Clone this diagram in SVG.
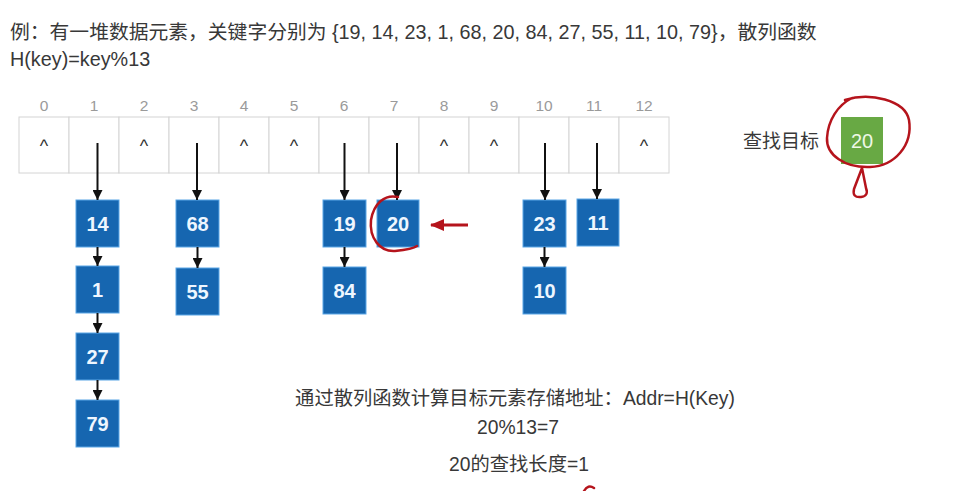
<svg xmlns="http://www.w3.org/2000/svg" width="956" height="491" viewBox="0 0 956 491">
<defs>
<style>
.t{font-family:"Liberation Sans","Noto Sans CJK SC",sans-serif;fill:#383838}
.idx{font-family:"Liberation Sans",sans-serif;font-size:15.5px;fill:#9a9a9a;text-anchor:middle}
.car{font-family:"Liberation Sans",sans-serif;font-size:18px;fill:#333;text-anchor:middle}
.cell{fill:#fff;stroke:#d4d4d4;stroke-width:1}
.box{fill:#1666b0;stroke:#5aa6e6;stroke-width:1}
.num{font-family:"Liberation Sans",sans-serif;font-size:20px;font-weight:bold;fill:#eef6ff;text-anchor:middle}
.arr{stroke:#111;stroke-width:2;fill:none;marker-end:url(#ah)}
.red{stroke:#b5141c;stroke-width:2.5;fill:none;stroke-linecap:round;stroke-linejoin:round}
</style>
<marker id="ah" markerUnits="userSpaceOnUse" markerWidth="10" markerHeight="10" refX="10" refY="5" orient="auto">
<path d="M0,0 L10,5 L0,10 z" fill="#111"/>
</marker>
<marker id="rh" markerUnits="userSpaceOnUse" markerWidth="14" markerHeight="12" refX="13" refY="6" orient="auto">
<path d="M0,0 L14,6 L0,12 z" fill="#b5141c"/>
</marker>
</defs>

<g id="title">
<text class="t" x="10" y="39" font-size="19.8">例：有一堆数据元素，关键字分别为 {19, 14, 23, 1, 68, 20, 84, 27, 55, 11, 10, 79}，散列函数</text>
<text class="t" x="10" y="66" font-size="19.8">H(key)=key%13</text>
</g>

<g id="table">
<rect class="cell" x="19" y="117" width="50" height="56"/>
<rect class="cell" x="69" y="117" width="50" height="56"/>
<rect class="cell" x="119" y="117" width="50" height="56"/>
<rect class="cell" x="169" y="117" width="50" height="56"/>
<rect class="cell" x="219" y="117" width="50" height="56"/>
<rect class="cell" x="269" y="117" width="50" height="56"/>
<rect class="cell" x="319" y="117" width="50" height="56"/>
<rect class="cell" x="369" y="117" width="50" height="56"/>
<rect class="cell" x="419" y="117" width="50" height="56"/>
<rect class="cell" x="469" y="117" width="50" height="56"/>
<rect class="cell" x="519" y="117" width="50" height="56"/>
<rect class="cell" x="569" y="117" width="50" height="56"/>
<rect class="cell" x="619" y="117" width="50" height="56"/>
<text class="idx" x="44" y="111">0</text>
<text class="idx" x="94" y="111">1</text>
<text class="idx" x="144" y="111">2</text>
<text class="idx" x="194" y="111">3</text>
<text class="idx" x="244" y="111">4</text>
<text class="idx" x="294" y="111">5</text>
<text class="idx" x="344" y="111">6</text>
<text class="idx" x="394" y="111">7</text>
<text class="idx" x="444" y="111">8</text>
<text class="idx" x="494" y="111">9</text>
<text class="idx" x="544" y="111">10</text>
<text class="idx" x="594" y="111">11</text>
<text class="idx" x="644" y="111">12</text>
<text class="car" x="44" y="152">^</text>
<text class="car" x="144" y="152">^</text>
<text class="car" x="244" y="152">^</text>
<text class="car" x="294" y="152">^</text>
<text class="car" x="444" y="152">^</text>
<text class="car" x="494" y="152">^</text>
<text class="car" x="644" y="152">^</text>
</g>

<g id="n14"><rect class="box" x="76" y="200" width="43" height="47"/><text class="num" x="97.5" y="231">14</text></g>
<g id="n1"><rect class="box" x="76" y="266" width="43" height="47"/><text class="num" x="97.5" y="297">1</text></g>
<g id="n27"><rect class="box" x="76" y="333" width="43" height="47"/><text class="num" x="97.5" y="364">27</text></g>
<g id="n79"><rect class="box" x="76" y="400" width="43" height="47"/><text class="num" x="97.5" y="431">79</text></g>
<g id="n68"><rect class="box" x="176" y="200" width="43" height="47"/><text class="num" x="197.5" y="231">68</text></g>
<g id="n55"><rect class="box" x="176" y="268" width="43" height="47"/><text class="num" x="197.5" y="299">55</text></g>
<g id="n19"><rect class="box" x="323" y="200" width="43" height="47"/><text class="num" x="344.5" y="231">19</text></g>
<g id="n84"><rect class="box" x="323" y="267" width="43" height="47"/><text class="num" x="344.5" y="298">84</text></g>
<g id="n20"><rect class="box" x="377" y="200" width="42" height="47"/><text class="num" x="398" y="231">20</text></g>
<g id="n23"><rect class="box" x="523" y="200" width="43" height="47"/><text class="num" x="544.5" y="231">23</text></g>
<g id="n10"><rect class="box" x="523" y="267" width="43" height="47"/><text class="num" x="544.5" y="298">10</text></g>
<g id="n11"><rect class="box" x="577" y="199" width="42" height="47"/><text class="num" x="598" y="230">11</text></g>

<g id="target">
<text class="t" x="743" y="148" font-size="19">查找目标</text>
<rect x="841" y="117" width="42" height="47" fill="#68a944"/>
<text x="862" y="148" font-family="Liberation Sans,sans-serif" font-size="20" fill="#eef8e6" text-anchor="middle">20</text>
</g>

<g id="connectors">
<line class="arr" x1="97.5" y1="143" x2="97.5" y2="200"/>
<line class="arr" x1="197" y1="143" x2="197" y2="200"/>
<line class="arr" x1="344.5" y1="143" x2="344.5" y2="200"/>
<line class="arr" x1="397" y1="143" x2="397" y2="200"/>
<line class="arr" x1="545" y1="143" x2="545" y2="200"/>
<line class="arr" x1="597" y1="143" x2="597" y2="199"/>
<line class="arr" x1="97.5" y1="247" x2="97.5" y2="266"/>
<line class="arr" x1="97.5" y1="313" x2="97.5" y2="333"/>
<line class="arr" x1="97.5" y1="380" x2="97.5" y2="400"/>
<line class="arr" x1="197.5" y1="247" x2="197.5" y2="268"/>
<line class="arr" x1="344.5" y1="247" x2="344.5" y2="267"/>
<line class="arr" x1="544.5" y1="247" x2="544.5" y2="267"/>
</g>

<g id="annotations">
<path class="red" d="M398,197 C385,194 374,203 371,220 C369,238 380,252 395,251 C405,250 413,249 417,246"/>
<line x1="468" y1="225" x2="431" y2="225" stroke="#b5141c" stroke-width="3" marker-end="url(#rh)"/>
<path class="red" d="M845,100 C870,92 905,100 909,120 C913,145 895,166 870,167 C845,168 826,155 827,138 C828,120 838,105 852,98"/>
<path class="red" d="M862,168 L854,189 Q852,198 861,197 Q869,196 866,188 L862,168"/>
<path class="red" d="M584,491 Q588,484 594,488"/>
</g>

<g id="notes">
<text class="t" x="515" y="405" font-size="19.3" text-anchor="middle">通过散列函数计算目标元素存储地址：Addr=H(Key)</text>
<text class="t" x="518" y="434" font-size="19.3" text-anchor="middle">20%13=7</text>
<text class="t" x="519" y="471" font-size="19.3" text-anchor="middle">20的查找长度=1</text>
</g>
</svg>
